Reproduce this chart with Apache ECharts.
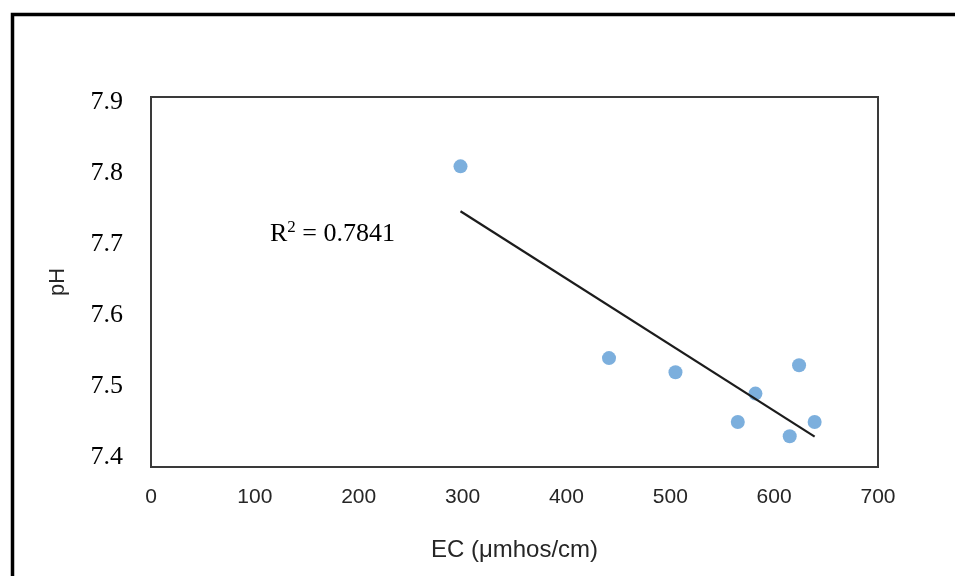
<!DOCTYPE html>
<html>
<head>
<meta charset="utf-8">
<script src="https://cdn.jsdelivr.net/npm/echarts@6/dist/echarts.min.js"></script>
<style>
  html, body { margin: 0; padding: 0; background: #fff; }
  #chart { width: 955px; height: 576px; }
</style>
</head>
<body>
<div id="chart"></div>
<script>
// Electrical conductivity vs. pH of the sampled waters
const ecValues = [298, 441, 505, 565, 582, 615, 624, 639];
const phValues = [7.81, 7.54, 7.52, 7.45, 7.49, 7.43, 7.53, 7.45];
const xTicks = [0, 100, 200, 300, 400, 500, 600, 700];
const yTicks = [7.4, 7.5, 7.6, 7.7, 7.8, 7.9];
const r2Value = '0.7841';

// least-squares trend line over the sampled EC range
function linearFit(xs, ys) {
  const n = xs.length;
  const mx = xs.reduce((a, b) => a + b, 0) / n;
  const my = ys.reduce((a, b) => a + b, 0) / n;
  let sxy = 0, sxx = 0;
  for (let i = 0; i < n; i++) {
    sxy += (xs[i] - mx) * (ys[i] - my);
    sxx += (xs[i] - mx) * (xs[i] - mx);
  }
  const slope = sxy / sxx;
  return { slope, intercept: my - slope * mx };
}
const fit = linearFit(ecValues, phValues);
const xMin = Math.min(...ecValues), xMax = Math.max(...ecValues);
const trend = [[xMin, fit.intercept + fit.slope * xMin], [xMax, fit.intercept + fit.slope * xMax]];

const chart = echarts.init(document.getElementById('chart'), null, { renderer: 'canvas' });
chart.setOption({
  animation: false,
  backgroundColor: '#ffffff',
  grid: {
    left: 151, right: 77, top: 97, bottom: 109,
    show: true, borderColor: '#3a3a3a', borderWidth: 2, backgroundColor: 'transparent'
  },
  xAxis: {
    type: 'value',
    min: 0, max: 700, interval: 100,
    name: 'EC (μmhos/cm)',
    nameLocation: 'middle',
    nameGap: 71,
    nameTextStyle: { fontFamily: 'Liberation Sans', fontSize: 24, color: '#262626' },
    axisLine: { show: true, lineStyle: { color: '#3a3a3a', width: 2 } },
    axisTick: { show: false },
    splitLine: { show: false },
    axisLabel: {
      margin: 20, fontFamily: 'Liberation Sans', fontSize: 21, color: '#262626',
      customValues: xTicks
    }
  },
  yAxis: {
    type: 'value',
    min: 7.3866, max: 7.9077,
    name: 'pH',
    nameLocation: 'middle',
    nameGap: 82,
    nameTextStyle: { fontFamily: 'Liberation Sans', fontSize: 22, color: '#262626' },
    axisLine: { show: true, lineStyle: { color: '#3a3a3a', width: 2 } },
    axisTick: { show: false },
    splitLine: { show: false },
    axisLabel: {
      margin: 28, fontFamily: 'Liberation Serif', fontSize: 26, color: '#000',
      customValues: yTicks,
      formatter: v => v.toFixed(1)
    }
  },
  graphic: [
    {
      type: 'rect', left: 10, top: 12, silent: true,
      shape: { width: 1000, height: 1000 },
      style: { fill: 'none', stroke: '#000', lineWidth: 3.5 }
    },
    {
      type: 'text', left: 270, top: 219, silent: true,
      style: {
        text: '{a|R}{s|2}{a| = ' + r2Value + '}',
        rich: {
          a: { fontFamily: 'Liberation Serif', fontSize: 26, color: '#000', lineHeight: 30 },
          s: { fontFamily: 'Liberation Serif', fontSize: 17, color: '#000', verticalAlign: 'top', padding: [0, 0, 12, 0] }
        }
      }
    }
  ],
  series: [
    {
      type: 'scatter',
      data: ecValues.map((x, i) => [x, phValues[i]]),
      symbol: 'circle',
      symbolSize: 14,
      itemStyle: { color: '#5b9bd5' },
      z: 3
    },
    {
      type: 'line',
      data: trend,
      symbol: 'none',
      lineStyle: { color: '#1c1c1c', width: 2.2 },
      z: 4
    }
  ]
});
</script>
</body>
</html>
